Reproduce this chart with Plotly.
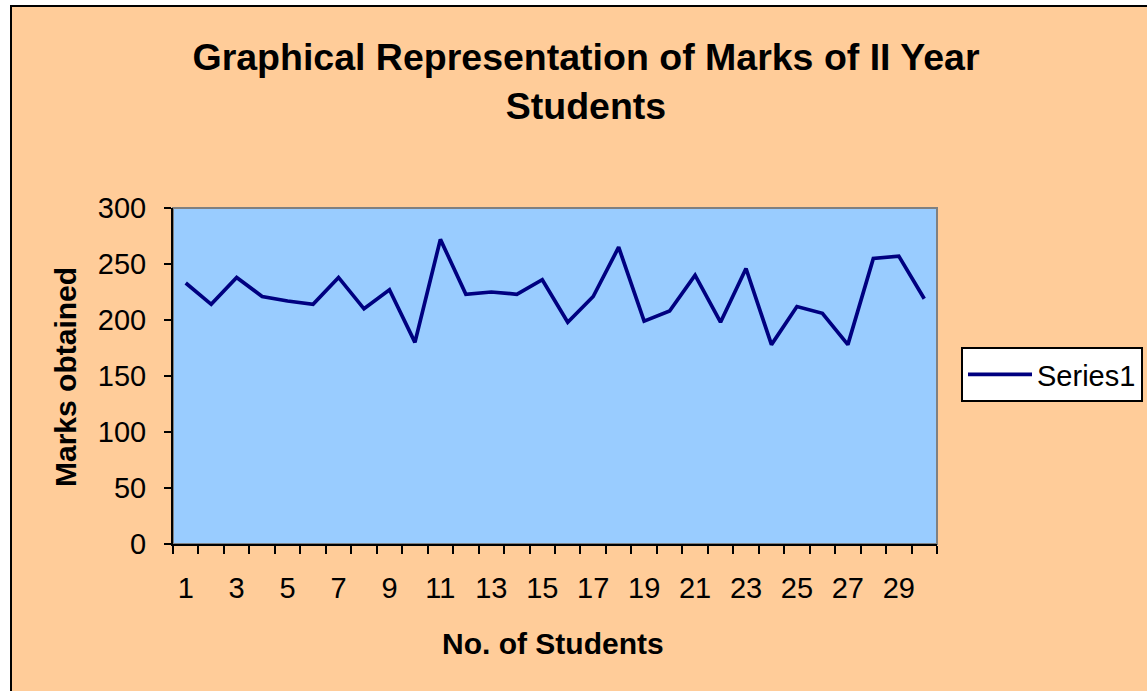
import plotly.graph_objects as go

students = list(range(1, 31))
marks = [233, 214, 238, 221, 217, 214, 238, 210, 227, 180,
         272, 223, 225, 223, 236, 198, 221, 265, 199, 208,
         240, 198, 246, 178, 212, 206, 178, 255, 257, 219]
y_ticks = [0, 50, 100, 150, 200, 250, 300]
x_labels = list(range(1, 31, 2))

W, H = 1147, 691
L, R, T, B = 173, 937, 208, 544  # plot area pixels
pw, ph = R - L, B - T

def px(x):
    return (x - L) / pw

def py(y):
    return (B - y) / ph

fig = go.Figure()
fig.add_trace(go.Scatter(
    x=students, y=marks, mode="lines", name="Series1",
    line=dict(color="#000080", width=3.7),
))

font = "Liberation Sans, Arial, sans-serif"

fig.update_layout(
    width=W, height=H,
    margin=dict(l=L, r=W - R, t=T, b=H - B, autoexpand=False),
    paper_bgcolor="white",
    plot_bgcolor="rgba(0,0,0,0)",
    font=dict(family=font, size=29, color="black"),
    title=dict(
        text="<b>Graphical Representation of Marks of II Year<br>Students</b>",
        x=586 / W, xanchor="center", xref="container",
        y=1 - 70 / H, yanchor="middle", yref="container",
        font=dict(size=37.5, family=font, color="black"),
    ),
    showlegend=True,
    legend=dict(
        x=px(961), xanchor="left", y=py(347), yanchor="top",
        bgcolor="white", bordercolor="black", borderwidth=2,
        font=dict(size=29, family=font, color="black"),
        itemwidth=64,
    ),
    xaxis=dict(
        range=[0.5, 30.5], tickmode="array", tickvals=x_labels,
        ticktext=[str(v) for v in x_labels],
        ticks="", showgrid=False, zeroline=False,
        showline=True, linecolor="black", linewidth=2,
        ticklabelstandoff=17,
        minor=dict(tickmode="array", tickvals=[i + 0.5 for i in range(0, 31)],
                   ticks="outside", ticklen=8, tickwidth=2, tickcolor="black",
                   showgrid=False),
    ),
    yaxis=dict(
        range=[0, 300], tickmode="array", tickvals=y_ticks,
        ticks="outside", ticklen=7, tickwidth=2, tickcolor="black",
        showgrid=False, zeroline=False,
        showline=True, linecolor="black", linewidth=2,
        ticklabelstandoff=12,
    ),
    shapes=[
        dict(type="rect", xref="paper", yref="paper", layer="below",
             x0=px(11), x1=px(1170), y0=py(710), y1=py(6),
             fillcolor="#FFCC99", line=dict(color="black", width=2)),
        dict(type="rect", xref="paper", yref="paper", layer="below",
             x0=0, x1=1, y0=0, y1=1,
             fillcolor="#99CCFF", line=dict(color="#808080", width=2)),
    ],
    annotations=[
        dict(text="<b>No. of Students</b>", xref="paper", yref="paper",
             x=px(553), y=py(643), xanchor="center", yanchor="middle",
             showarrow=False, font=dict(size=30, family=font, color="black")),
        dict(text="<b>Marks obtained</b>", xref="paper", yref="paper",
             x=px(65), y=py(377), xanchor="center", yanchor="middle",
             textangle=-90, showarrow=False,
             font=dict(size=30, family=font, color="black")),
    ],
)

fig.write_html("out.html", config={"displayModeBar": False},
               post_script="document.body.style.margin='0px';")
